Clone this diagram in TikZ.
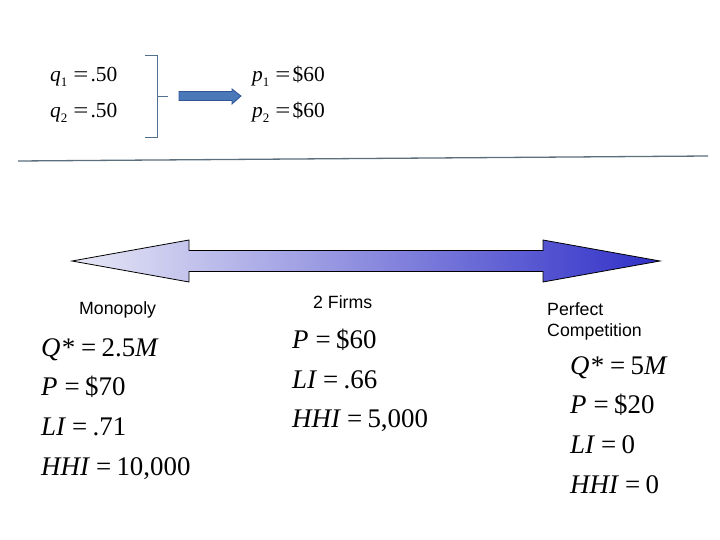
\documentclass[tikz,border=0pt]{standalone}
\usepackage{fontspec}
\usepackage{graphicx}
\setmainfont{Liberation Serif}
\newfontfamily\labelfont{Liberation Sans}
\newcommand{\myeq}{\hspace{0.26em}=\hspace{0.2em}}
\newcommand{\smeq}{\hspace{0.28em}\scalebox{1.25}[1]{=}\hspace{0.1em}}
\newcommand{\subtxt}[1]{\raisebox{-0.22em}{\fontsize{13}{14}\selectfont #1}}
\begin{document}
\begin{tikzpicture}[x=1bp,y=-1bp,
  mathtxt/.style={anchor=base west,inner sep=0pt,font=\fontsize{27}{30}\selectfont},
  smallmath/.style={anchor=base west,inner sep=0pt,font=\fontsize{21.5}{23}\selectfont},
  lbl/.style={anchor=base west,inner sep=0pt,font=\labelfont\fontsize{17.8}{21}\selectfont},
  bracketline/.style={draw=bracketcol,line width=0.9bp}]
\definecolor{bracketcol}{HTML}{50708F}
\definecolor{rulecol}{HTML}{5C6F7C}
\definecolor{arrowfill}{HTML}{4A78B8}
\definecolor{arrowdraw}{HTML}{2F5597}
\definecolor{leftcol}{HTML}{E8E8F6}
\definecolor{rightcol}{HTML}{3030C8}
\useasboundingbox (0,0) rectangle (720,540);
% top equations
\node[smallmath] (q1) at (50,82) {{\itshape q}\subtxt{1}\smeq.50};
\node[smallmath] (q2) at (50,118) {{\itshape q}\subtxt{2}\smeq.50};
\node[smallmath] (p1) at (252,82) {{\itshape p}\subtxt{1}\smeq\$60};
\node[smallmath] (p2) at (252,118) {{\itshape p}\subtxt{2}\smeq\$60};
% bracket
\coordinate (bt) at (145,55);
\coordinate (bb) at (145,137);
\coordinate (bm) at (157,96);
\coordinate (bmr) at (168,96);
\draw[bracketline] (bt) -- (157,55) -- (157,137) -- (bb);
\draw[bracketline] (bm) -- (bmr);
% blue block arrow
\coordinate (ba) at (179,96);
\coordinate (bz) at (241,96);
\filldraw[fill=arrowfill,draw=arrowdraw,line width=0.8bp]
  (179,91.5) -- (232,91.5) -- (232,89) -- (bz) -- (232,104) -- (232,100.5) -- (179,100.5) -- cycle;
% horizontal rule
\coordinate (hl) at (18,161);
\coordinate (hr) at (708,156);
\draw[rulecol,line width=1.3bp] (hl) -- (hr);
% double arrow
\coordinate (dl) at (72,261);
\coordinate (dr) at (660,261);
\draw[line width=0.8bp,left color=leftcol,right color=rightcol]
  (dl) -- (189,240) -- (189,250.5) -- (543,250.5) -- (543,240) -- (dr)
  -- (543,282) -- (543,271.5) -- (189,271.5) -- (189,282) -- cycle;
% labels
\node[lbl] (mono) at (79,314) {Monopoly};
\node[lbl] (two) at (313,308) {2 Firms};
\node[lbl] (perf) at (547,315) {Perfect};
\node[lbl] (comp) at (547,336) {Competition};
% left column
\node[mathtxt] (lq) at (41,356) {{\itshape Q*}\myeq2.5{\itshape M}};
\node[mathtxt] (lp) at (41,395) {{\itshape P}\myeq\$70};
\node[mathtxt] (ll) at (41,435) {{\itshape LI}\myeq.71};
\node[mathtxt] (lh) at (41,475) {{\itshape HHI}\myeq10,000};
% middle column
\node[mathtxt] (mp) at (292,348) {{\itshape P}\myeq\$60};
\node[mathtxt] (ml) at (292,388) {{\itshape LI}\myeq.66};
\node[mathtxt] (mh) at (292,427) {{\itshape HHI}\myeq5,000};
% right column
\node[mathtxt] (rq) at (570,374) {{\itshape Q*}\myeq5{\itshape M}};
\node[mathtxt] (rp) at (570,413) {{\itshape P}\myeq\$20};
\node[mathtxt] (rl) at (570,453) {{\itshape LI}\myeq0};
\node[mathtxt] (rh) at (570,493) {{\itshape HHI}\myeq0};
\end{tikzpicture}
\end{document}
